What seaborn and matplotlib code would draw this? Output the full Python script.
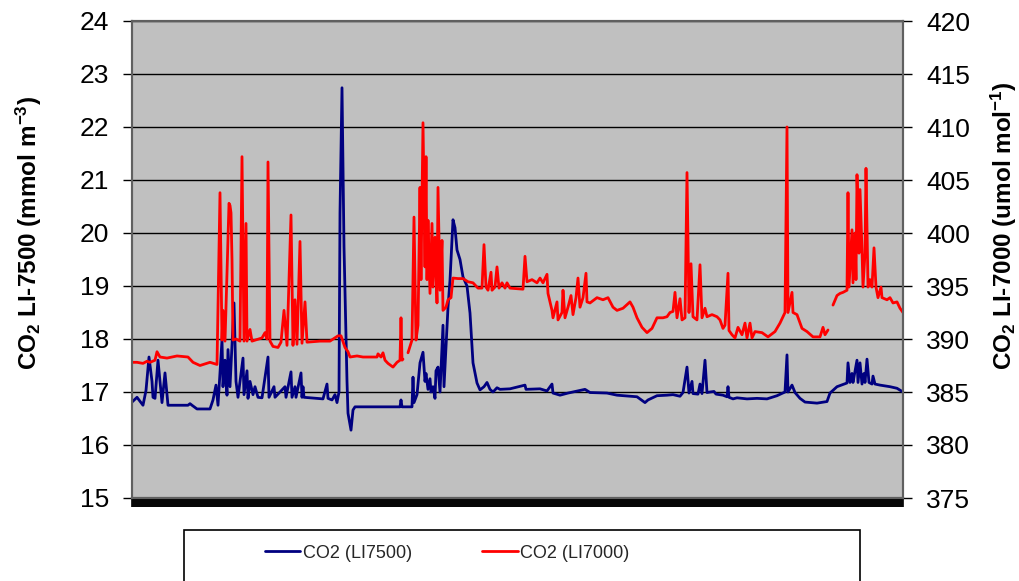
import numpy as np
import pandas as pd
import matplotlib
matplotlib.use("Agg")
import matplotlib.pyplot as plt
import seaborn as sns
from matplotlib.patches import Rectangle
from matplotlib.lines import Line2D
from matplotlib import font_manager

# ---------------- data (sample index along the record) ----------------
t_li7500 = [0, 5, 11, 14, 17, 20, 21, 23, 26, 30, 33, 36, 56, 58, 60, 65, 78, 81, 84, 86,
            90, 91, 93, 95, 96, 98, 102, 104, 106, 111, 112, 115, 116, 118, 121, 123, 126,
            130, 136, 137, 142, 143, 153, 154, 159, 160, 163, 164, 169, 170, 171, 172, 185,
            191, 195, 196, 200, 203, 205, 207, 208, 210, 212, 215, 216, 219, 221, 223, 268,
            269, 270, 280, 281, 282, 285, 288, 291, 293, 294, 296, 298, 299, 301, 303, 304,
            306, 308, 311, 312, 315, 316, 318, 321, 323, 325, 328, 331, 335, 338, 341, 345,
            348, 352, 355, 358, 361, 365, 368, 378, 393, 394, 408, 415, 420, 421, 428, 436,
            446, 453, 458, 475, 485, 505, 513, 516, 525, 535, 541, 548, 551, 555, 557, 560,
            561, 566, 568, 570, 573, 575, 578, 582, 584, 591, 595, 596, 597, 601, 605, 615,
            625, 635, 645, 653, 655, 656, 660, 663, 668, 673, 685, 695, 698, 705, 715, 716,
            718, 720, 721, 725, 726, 728, 730, 732, 733, 735, 737, 740, 741, 743, 748, 758,
            765, 771]
co2_li7500 = [16.81, 16.90, 16.75, 17.03, 17.66, 17.20, 16.90, 16.88, 17.60, 16.80, 17.36,
              16.75, 16.75, 16.78, 16.75, 16.68, 16.68, 16.85, 17.13, 16.75, 17.98, 17.10,
              17.60, 16.94, 17.80, 17.10, 18.68, 17.20, 16.90, 17.64, 16.95, 17.40, 16.88,
              17.20, 16.95, 17.10, 16.90, 16.89, 17.66, 16.90, 17.10, 16.90, 17.10, 16.90,
              17.38, 16.90, 17.10, 16.90, 17.36, 16.90, 17.10, 16.90, 16.88, 16.87, 17.15,
              16.88, 16.85, 16.95, 16.80, 17.00, 20.38, 22.74, 19.74, 17.20, 16.60, 16.28,
              16.66, 16.72, 16.72, 16.85, 16.72, 16.72, 17.28, 16.80, 16.95, 17.55, 17.75,
              17.20, 17.35, 17.05, 17.25, 17.00, 17.10, 16.88, 17.40, 17.47, 17.00, 18.26,
              17.10, 18.23, 18.60, 19.11, 20.25, 20.10, 19.68, 19.50, 19.17, 19.00, 18.49,
              17.55, 17.17, 17.04, 17.10, 17.18, 17.05, 17.00, 17.08, 17.05, 17.06, 17.13,
              17.05, 17.06, 17.02, 17.15, 16.98, 16.94, 16.98, 17.02, 17.05, 16.99, 16.98,
              16.94, 16.91, 16.80, 16.85, 16.93, 16.94, 16.95, 16.92, 16.99, 17.47, 16.98,
              17.20, 16.97, 16.96, 17.15, 16.97, 17.60, 16.99, 17.00, 17.01, 16.96, 16.94,
              16.91, 17.10, 16.90, 16.87, 16.89, 16.87, 16.88, 16.87, 16.93, 17.00, 17.70,
              17.00, 17.13, 16.99, 16.88, 16.81, 16.79, 16.82, 16.98, 17.10, 17.17, 17.55,
              17.18, 17.35, 17.18, 17.60, 17.18, 17.55, 17.15, 17.35, 17.18, 17.62, 17.18,
              17.15, 17.30, 17.15, 17.13, 17.10, 17.07, 17.00]

t_li7000 = [0, 5, 11, 15, 18, 23, 25, 28, 35, 45, 56, 61, 68, 78, 85, 88, 90, 91, 93, 95,
            97, 98, 99, 100, 101, 104, 108, 110, 112, 114, 115, 118, 120, 130, 133, 135, 136,
            138, 141, 146, 149, 152, 155, 159, 161, 163, 165, 168, 170, 173, 175, 188, 198,
            206, 209, 213, 216, 218, 225, 231, 245, 246, 249, 251, 253, 256, 261, 265, 268,
            269, 270, 271, 273, 276, 280, 282, 284, 286, 288, 289, 291, 293, 294, 295, 296,
            298, 300, 301, 303, 305, 306, 308, 310, 311, 314, 316, 319, 321, 326, 331, 336,
            341, 346, 350, 352, 354, 356, 359, 360, 363, 365, 367, 370, 373, 375, 378, 391,
            393, 395, 400, 405, 408, 411, 415, 416, 420, 421, 425, 426, 430, 431, 433, 436,
            439, 441, 444, 446, 448, 451, 454, 455, 458, 465, 471, 476, 481, 485, 491, 498,
            501, 505, 510, 515, 520, 525, 531, 535, 538, 541, 543, 545, 548, 550, 553, 555,
            557, 559, 561, 565, 568, 570, 573, 575, 580, 585, 588, 591, 593, 596, 597, 600,
            603, 606, 610, 613, 615, 618, 620, 623, 630, 636, 643, 648, 653, 655, 656, 660,
            661, 665, 670, 675, 681, 688, 691, 693, 696, 698, 701, 705, 708, 711, 715, 716,
            717, 720, 721, 723, 724, 725, 727, 728, 730, 731, 733, 734, 736, 738, 740, 742,
            744, 746, 749, 750, 755, 758, 761, 765, 768, 771]
co2_li7000 = [387.8, 387.8, 387.7, 387.9, 387.8, 388.0, 388.8, 388.3, 388.2, 388.4, 388.3,
              387.8, 387.5, 387.8, 387.6, 403.8, 389.9, 392.7, 389.8, 396.2, 402.8, 402.6,
              401.9, 397.5, 389.9, 390.0, 389.8, 407.2, 389.8, 400.9, 389.8, 390.9, 389.8,
              390.1, 390.6, 390.0, 406.7, 389.8, 389.3, 389.2, 389.7, 392.7, 389.4, 401.7,
              389.4, 393.7, 389.5, 399.2, 389.6, 393.5, 389.7, 389.8, 389.8, 390.3, 390.3,
              389.2, 388.8, 388.3, 388.4, 388.3, 388.3, 388.6, 388.3, 388.7, 388.0, 387.7,
              387.35, 387.8, 388.0, 392.0, 388.0, 388.1, np.nan, 388.7, 389.9, 401.5, 389.9,
              391.3, 404.3, 395.6, 410.4, 396.8, 407.2, 395.6, 401.2, 394.3, 400.9, 394.9,
              399.6, 393.4, 404.3, 394.6, 399.3, 392.7, 393.0, 393.7, 393.9, 395.75, 395.7,
              395.7, 395.4, 395.3, 394.8, 394.8, 398.9, 394.9, 394.6, 396.3, 394.6, 394.9,
              396.8, 394.8, 395.3, 394.8, 395.3, 394.8, 394.7, 397.8, 395.4, 395.6, 395.3,
              395.75, 395.3, 396.1, 394.3, 392.7, 392.0, 393.5, 391.8, 392.5, 394.6, 392.0,
              393.0, 394.1, 392.3, 393.9, 395.75, 393.0, 393.9, 396.2, 393.5, 393.4, 393.9,
              393.7, 393.9, 393.0, 392.7, 392.9, 393.5, 393.0, 392.0, 391.1, 390.6, 391.0,
              392.0, 392.0, 392.1, 392.5, 392.6, 394.4, 392.0, 393.8, 391.8, 392.0, 405.7,
              392.5, 397.1, 392.1, 391.8, 397.0, 392.0, 392.9, 392.1, 392.3, 392.1, 391.8,
              391.0, 391.3, 396.2, 390.8, 390.4, 390.1, 391.1, 390.4, 391.5, 390.1, 391.5,
              390.1, 390.7, 390.6, 390.2, 390.7, 391.5, 392.5, 410.0, 392.5, 394.4, 392.5,
              392.3, 391.0, 390.7, 390.2, 390.2, 391.1, 390.4, 390.85, np.nan, 393.2, 394.1,
              394.3, 394.4, 394.6, 403.8, 394.9, 400.3, 395.3, 400.0, 395.6, 405.5, 398.1,
              404.1, 398.4, 394.9, 398.1, 406.1, 394.9, 395.6, 394.9, 398.6, 394.9, 393.9,
              394.9, 393.9, 393.7, 393.9, 393.4, 393.5, 392.9, 392.5]

left_ticks = list(range(15, 25))
right_ticks = list(range(375, 421, 5))
series_labels = ["CO2 (LI7500)", "CO2 (LI7000)"]
left_label = r"CO$_2$ LI-7500 (mmol m$^{-3}$)"
right_label = r"CO$_2$ LI-7000 (umol mol$^{-1}$)"

# ---------------- style ----------------
sns.set_theme(style="white")
plt.rcParams["font.family"] = ["Liberation Sans", "DejaVu Sans"]
plt.rcParams.update({
    "mathtext.fontset": "custom",
    "mathtext.rm": "Liberation Sans:bold",
    "mathtext.it": "Liberation Sans:bold",
    "mathtext.bf": "Liberation Sans:bold",
    "mathtext.default": "rm",
})
installed = {f.name for f in font_manager.fontManager.ttflist}
if "Liberation Sans Narrow" in installed:
    legend_font = dict(family="Liberation Sans Narrow", size=15)
else:
    legend_font = dict(family="Liberation Sans", size=13)

W, H = 1020, 581
fig = plt.figure(figsize=(W / 100, H / 100), dpi=100)
x0, x1, y0, y1 = 132, 903, 21, 498
ax = fig.add_axes([x0 / W, 1 - y1 / H, (x1 - x0) / W, (y1 - y0) / H])
ax.set_facecolor("#C0C0C0")
ax2 = ax.twinx()

blue = "#000080"
red = "#FF0000"

df1 = pd.DataFrame({"t": t_li7500, "co2": co2_li7500})
df2 = pd.DataFrame({"t": t_li7000, "co2": co2_li7000})
df2["seg"] = df2["co2"].isna().cumsum()
df2 = df2.dropna()

sns.lineplot(data=df1, x="t", y="co2", ax=ax, color=blue, lw=2, estimator=None, legend=False)
sns.lineplot(data=df2, x="t", y="co2", units="seg", estimator=None, ax=ax2,
             color=red, lw=2, legend=False)

ax.set_xlim(0, 771)
ax.set_ylim(15, 24)
ax2.set_ylim(375, 420)
ax.set_yticks(left_ticks)
ax2.set_yticks(right_ticks)
ax.yaxis.grid(True, color="black", lw=1)
ax.xaxis.grid(False)
ax2.grid(False)
ax.set_axisbelow(True)

# dense x tick marks (black band under the plot)
ax.set_xticks(np.arange(0, 772, 1))
ax.set_xticklabels([])
ax.tick_params(axis="x", bottom=True, direction="out", length=6.5, width=1.2, color="black")
ax.tick_params(axis="y", left=True, direction="out", length=6.5, width=1, color="black",
               labelsize=19, pad=10, labelcolor="black")
ax2.tick_params(axis="y", right=True, direction="out", length=6.5, width=1, color="black",
                labelsize=19, pad=10, labelcolor="black")

for a in (ax, ax2):
    for s in a.spines.values():
        s.set_color("#606060")
        s.set_linewidth(1.5)
ax.spines["bottom"].set_color("black")

ax.set_xlabel("")
ax.set_ylabel(left_label, fontsize=17.5, fontweight="bold", color="black")
ax.yaxis.set_label_coords((44 - x0) / (x1 - x0), 1 - (233 - y0) / (y1 - y0))
ax2.set_ylabel(right_label, fontsize=17.5, fontweight="bold", color="black")
ax2.yaxis.set_label_coords((989 - x0) / (x1 - x0), 1 - (226 - y0) / (y1 - y0))

# legend box (partly cut off at bottom) + entries
fig.patches.append(Rectangle((184 / W, -0.05), (860 - 184) / W, 1 - 530 / H + 0.05,
                             transform=fig.transFigure, facecolor="white",
                             edgecolor="black", lw=1.2, zorder=0))
handles = [Line2D([], [], color=blue, lw=2), Line2D([], [], color=red, lw=2)]
fig.legend(handles, series_labels, loc="center left", bbox_to_anchor=(256 / W, 1 - 553 / H),
           ncol=2, frameon=False, prop=legend_font, handlelength=1.95, handletextpad=0.15,
           columnspacing=3.9, borderpad=0)

fig.savefig("out.png", dpi=100)
